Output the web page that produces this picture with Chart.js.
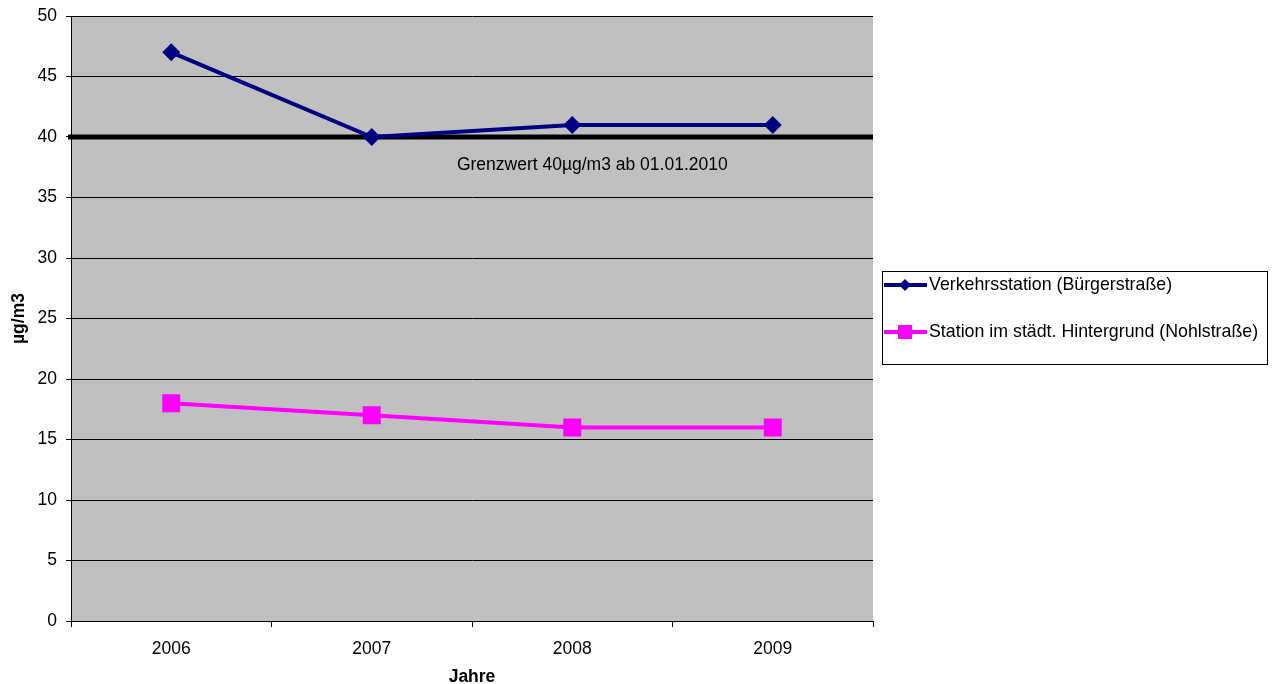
<!DOCTYPE html>
<html lang="de">
<head>
<meta charset="utf-8">
<title>NO2 Jahresmittelwerte</title>
<script src="https://cdn.jsdelivr.net/npm/chart.js@4.4.1/dist/chart.umd.min.js"></script>
<style>
  html, body { margin: 0; padding: 0; background: #fff; }
  #wrap { width: 1272px; height: 684px; }
</style>
</head>
<body>
<div id="wrap"><canvas id="chart" width="1272" height="684"></canvas></div>
<script>
// ─── Daten ────────────────────────────────────────────────
const JAHRE       = ['2006', '2007', '2008', '2009'];
const VERKEHR     = [47, 40, 41, 41];
const HINTERGRUND = [18, 17, 16, 16];
const NAMEN       = ['Verkehrsstation (Bürgerstraße)', 'Station im städt. Hintergrund (Nohlstraße)'];
const GRENZWERT   = 40;
const GRENZWERT_TEXT = 'Grenzwert 40µg/m3 ab 01.01.2010';
const Y_MIN = 0, Y_MAX = 50, Y_STEP = 5;

// ─── Stil ─────────────────────────────────────────────────
const FONT  = '"Liberation Sans", Arial, sans-serif';
const SIZE  = 17.5;
const NAVY  = '#000080';
const PINK  = '#FF00FF';

// Grauer Hintergrund der Zeichenfläche
const hintergrund = {
  id: 'hintergrund',
  beforeDraw(chart) {
    const { ctx, chartArea: a } = chart;
    ctx.save();
    ctx.fillStyle = '#C0C0C0';
    ctx.fillRect(a.left, a.top, a.right - a.left, a.bottom - a.top);
    ctx.restore();
  }
};

// Dicke Grenzwertlinie + Beschriftung
const grenzwertLinie = {
  id: 'grenzwertLinie',
  beforeDatasetsDraw(chart) {
    const { ctx, chartArea: a, scales } = chart;
    const y = scales.y.getPixelForValue(GRENZWERT);
    ctx.save();
    ctx.strokeStyle = '#000';
    ctx.lineWidth = 5;
    ctx.beginPath();
    ctx.moveTo(a.left - 3, y);
    ctx.lineTo(a.right, y);
    ctx.stroke();

    ctx.fillStyle = '#000';
    ctx.font = `${SIZE}px ${FONT}`;
    ctx.textAlign = 'center';
    ctx.textBaseline = 'middle';
    ctx.fillText(GRENZWERT_TEXT, scales.x.getPixelForValue(2.1), y + 28);
    ctx.restore();
  }
};

// Legende im Kasten rechts
const kastenLegende = {
  id: 'kastenLegende',
  afterDraw(chart) {
    const ctx = chart.ctx;
    ctx.save();
    ctx.fillStyle = '#fff';
    ctx.strokeStyle = '#000';
    ctx.lineWidth = 1;
    ctx.fillRect(882.5, 271.5, 385, 93);
    ctx.strokeRect(882.5, 271.5, 385, 93);

    chart.data.datasets.forEach((ds, i) => {
      const y = 285 + i * 47;
      ctx.strokeStyle = ds.borderColor;
      ctx.lineWidth = 4;
      ctx.beginPath();
      ctx.moveTo(884, y);
      ctx.lineTo(927, y);
      ctx.stroke();

      ctx.fillStyle = ds.backgroundColor;
      ctx.beginPath();
      if (ds.pointStyle === 'rectRot') {
        ctx.moveTo(905, y - 6);
        ctx.lineTo(911, y);
        ctx.lineTo(905, y + 6);
        ctx.lineTo(899, y);
        ctx.closePath();
      } else {
        ctx.rect(898, y - 7, 14, 14);
      }
      ctx.fill();

      ctx.fillStyle = '#000';
      ctx.font = `17.8px ${FONT}`;
      ctx.textAlign = 'left';
      ctx.textBaseline = 'middle';
      ctx.fillText(ds.label, 929, y);
    });
    ctx.restore();
  }
};

new Chart(document.getElementById('chart'), {
  type: 'line',
  data: {
    labels: JAHRE,
    datasets: [
      {
        label: NAMEN[0],
        data: VERKEHR,
        borderColor: NAVY,
        backgroundColor: NAVY,
        borderWidth: 4,
        pointStyle: 'rectRot',
        pointRadius: 9,
        pointBorderWidth: 0,
        tension: 0,
      },
      {
        label: NAMEN[1],
        data: HINTERGRUND,
        borderColor: PINK,
        backgroundColor: PINK,
        borderWidth: 4,
        pointStyle: 'rect',
        pointRadius: 12.7,
        pointBorderWidth: 0,
        tension: 0,
      }
    ]
  },
  options: {
    responsive: false,
    animation: false,
    events: [],
    layout: { padding: { top: 16, right: 399, bottom: 0, left: 0 } },
    plugins: {
      legend: { display: false },
      tooltip: { enabled: false },
    },
    scales: {
      x: {
        offset: true,
        afterFit: (s) => { s.height = 63; },
        grid: { offset: true, drawOnChartArea: false, drawTicks: true, tickLength: 6, color: '#000' },
        border: { color: '#000', width: 1 },
        ticks: { color: '#000', padding: 12, font: { family: FONT, size: SIZE } },
        title: {
          display: true, text: 'Jahre', color: '#000', padding: { top: 0, bottom: -2 },
          font: { family: FONT, size: SIZE, weight: 'bold', lineHeight: 1 }
        }
      },
      y: {
        min: Y_MIN, max: Y_MAX,
        afterFit: (s) => { s.width = 71; s.paddingTop = 0; s.paddingBottom = 0; },
        grid: { color: '#000', tickLength: 5, lineWidth: 1 },
        border: { color: '#000', width: 1 },
        ticks: { stepSize: Y_STEP, color: '#000', padding: 9, font: { family: FONT, size: SIZE } },
        title: {
          display: true, text: 'µg/m3', color: '#000', padding: { top: 10, bottom: 0 },
          font: { family: FONT, size: SIZE, weight: 'bold', lineHeight: 1 }
        }
      }
    }
  },
  plugins: [hintergrund, grenzwertLinie, kastenLegende]
});
</script>
</body>
</html>
